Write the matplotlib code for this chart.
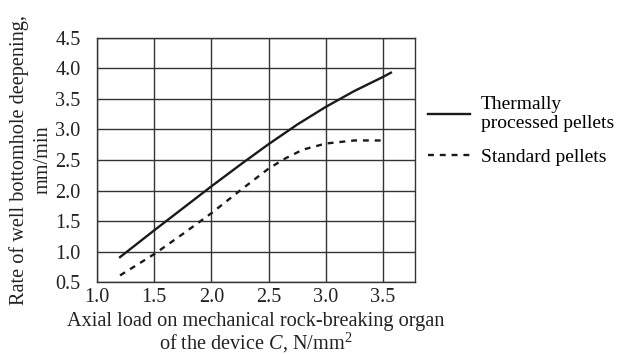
import matplotlib
matplotlib.use('Agg')
import matplotlib.pyplot as plt

# Daten
load_thermal = [1.2, 1.5, 1.75, 2.0, 2.25, 2.5, 2.75, 3.0, 3.25, 3.5, 3.57]
rate_thermal = [0.91, 1.35, 1.71, 2.07, 2.42, 2.76, 3.08, 3.37, 3.63, 3.86, 3.93]

load_standard = [1.2, 1.5, 1.75, 2.0, 2.25, 2.5, 2.65, 2.8, 3.0, 3.25, 3.48]
rate_standard = [0.61, 0.96, 1.29, 1.63, 2.0, 2.36, 2.53, 2.67, 2.77, 2.82, 2.82]

labels = ['Thermally\nprocessed pellets', 'Standard pellets']
xticks = [1.0, 1.5, 2.0, 2.5, 3.0, 3.5]
yticks = [0.5, 1.0, 1.5, 2.0, 2.5, 3.0, 3.5, 4.0, 4.5]

plt.rcParams['font.family'] = 'Liberation Serif'
plt.rcParams['mathtext.fontset'] = 'custom'
plt.rcParams['mathtext.rm'] = 'Liberation Serif'
plt.rcParams['mathtext.it'] = 'Liberation Serif:italic'

fs = 14.6
fig = plt.figure(figsize=(6.23, 3.54), dpi=100)
ax = fig.add_axes([0.156, 0.203, 0.51, 0.69])

ax.plot(load_thermal, rate_thermal, color='#1a1a1a', linewidth=1.7,
        label=labels[0])
ax.plot(load_standard, rate_standard, color='#1a1a1a', linewidth=1.7,
        linestyle=(0, (2.5, 2.5)), label=labels[1])

ax.set_xlim(1.0, 3.78)
ax.set_ylim(0.5, 4.5)
ax.set_xticks(xticks)
ax.set_yticks(yticks)
ax.set_xticklabels([f'{v:.1f}' for v in xticks])
ax.set_yticklabels([f'{v:.1f}' for v in yticks])
ax.tick_params(axis='x', length=0, labelsize=fs, pad=4, colors='#222222')
ax.tick_params(axis='y', length=0, labelsize=fs, pad=12, colors='#222222')
ax.grid(True, color='#333333', linewidth=1.0)
ax.set_axisbelow(True)
for sp in ax.spines.values():
    sp.set_color('#333333')
    sp.set_linewidth(1.0)

ax.set_xlabel('Axial load on mechanical rock-breaking organ\n'
              'of the device $C$, N/mm$^2$', fontsize=fs, linespacing=1.0,
              labelpad=4, color='#222222')
ax.set_ylabel('Rate of well bottomhole deepening,\nmm/min', fontsize=fs,
              linespacing=1.3, labelpad=2, color='#222222')

ax.legend(loc='center left', bbox_to_anchor=(1.0, 0.62), frameon=False,
          fontsize=14, handlelength=2.2, handletextpad=0.55,
          labelspacing=0.8, borderaxespad=0.25)

plt.savefig('out.png', dpi=100)
